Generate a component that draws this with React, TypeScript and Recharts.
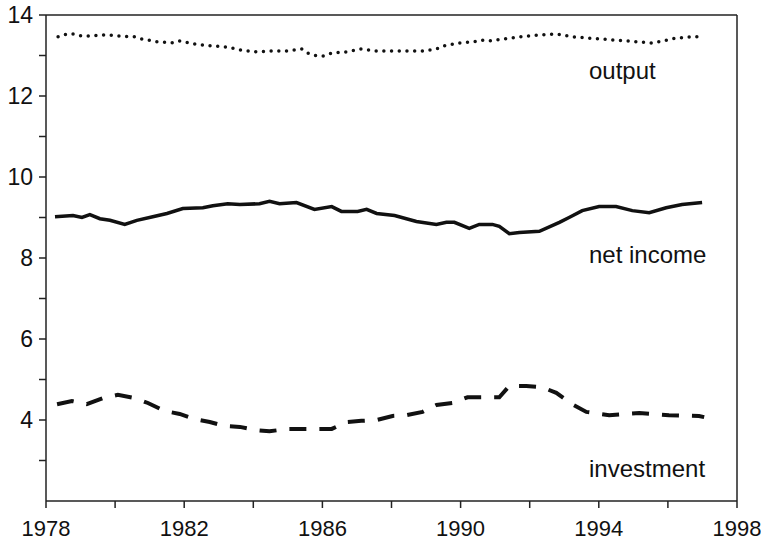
import React from 'react';
import { LineChart, Line, XAxis, YAxis, ReferenceLine } from 'recharts';

// values (x in fractional years)
const outputYears = [
  1978.35, 1978.61, 1978.78, 1979.04, 1979.27, 1979.71, 1980.14, 1980.57, 1980.77, 1981.21,
  1981.64, 1981.87, 1982.25, 1982.74, 1983.23, 1983.61, 1984.04, 1984.47, 1984.97, 1985.4,
  1985.57, 1985.83, 1986.03, 1986.27, 1986.7, 1987.13, 1987.57, 1988.23, 1988.9, 1989.3,
  1989.53, 1989.97, 1990.4, 1990.63, 1990.83, 1991.27, 1991.9, 1992.36, 1992.8, 1993.23,
  1994.01, 1994.79, 1995.54, 1995.75, 1996.24, 1996.7, 1996.99,
];
const outputValues = [
  13.46, 13.53, 13.53, 13.48, 13.48, 13.51, 13.48, 13.46, 13.41, 13.34,
  13.31, 13.36, 13.29, 13.24, 13.21, 13.14, 13.09, 13.11, 13.11, 13.16,
  13.06, 12.99, 12.99, 13.06, 13.09, 13.16, 13.11, 13.11, 13.11, 13.16,
  13.24, 13.31, 13.34, 13.38, 13.36, 13.41, 13.48, 13.51, 13.53, 13.46,
  13.41, 13.36, 13.31, 13.34, 13.43, 13.46, 13.46,
];

const incomeYears = [
  1978.26, 1978.78, 1979.04, 1979.27, 1979.56, 1979.85, 1980.28, 1980.63, 1981.09, 1981.5,
  1981.96, 1982.54, 1982.83, 1983.26, 1983.61, 1984.18, 1984.47, 1984.76, 1985.25, 1985.77,
  1986.27, 1986.55, 1987.02, 1987.28, 1987.57, 1988.09, 1988.72, 1989.3, 1989.59, 1989.82,
  1990.25, 1990.54, 1990.92, 1991.12, 1991.41, 1991.7, 1992.28, 1992.86, 1993.14, 1993.52,
  1994.01, 1994.5, 1994.97, 1995.46, 1995.95, 1996.41, 1996.99,
];
const incomeValues = [
  9.02, 9.05, 9.0, 9.07, 8.97, 8.93, 8.83, 8.93, 9.02, 9.1,
  9.22, 9.24, 9.29, 9.34, 9.32, 9.34, 9.4, 9.34, 9.37, 9.2,
  9.27, 9.15, 9.15, 9.2, 9.1, 9.05, 8.9, 8.83, 8.88, 8.88,
  8.73, 8.83, 8.83, 8.78, 8.6, 8.63, 8.66, 8.88, 9.0, 9.17,
  9.27, 9.27, 9.17, 9.12, 9.24, 9.32, 9.37,
];

const investYears = [
  1978.32, 1978.75, 1979.18, 1979.65, 1980.08, 1980.57, 1980.95, 1981.44, 1981.87, 1982.31,
  1982.74, 1983.17, 1983.61, 1984.1, 1984.47, 1984.97, 1985.83, 1986.27, 1986.7, 1987.13,
  1987.57, 1988.03, 1988.43, 1988.9, 1989.3, 1989.76, 1990.2, 1990.63, 1991.12, 1991.41,
  1991.9, 1992.36, 1992.77, 1993.23, 1993.64, 1994.3, 1995.17, 1996.03, 1996.9, 1997.05,
];
const investValues = [
  4.39, 4.47, 4.39, 4.54, 4.62, 4.54, 4.42, 4.22, 4.15, 4.02,
  3.95, 3.85, 3.83, 3.75, 3.72, 3.78, 3.78, 3.78, 3.95, 3.98,
  4.0, 4.1, 4.12, 4.2, 4.37, 4.42, 4.56, 4.56, 4.56, 4.84,
  4.84, 4.81, 4.67, 4.39, 4.2, 4.12, 4.17, 4.12, 4.1, 4.07,
];

const xTicks = [1978, 1980, 1982, 1984, 1986, 1988, 1990, 1992, 1994, 1996, 1998];
const yTicks = [3, 4, 5, 6, 7, 8, 9, 10, 11, 12, 13, 14];

const toPoints = (years: number[], values: number[]) =>
  years.map((year, i) => ({ year, value: values[i] }));

const font = '"Liberation Sans", Arial, sans-serif';
const axisColor = '#222';

const SeriesLabel = ({ text, left, top }: { text: string; left: number; top: number }) => (
  <div
    style={{
      position: 'absolute',
      left,
      top,
      fontFamily: font,
      fontSize: 24,
      color: '#111',
      whiteSpace: 'nowrap',
    }}
  >
    {text}
  </div>
);

export default function App() {
  return (
    <div style={{ position: 'absolute', left: 0, top: 0, width: 761, height: 543, background: '#fff' }}>
      <LineChart width={761} height={543} margin={{ top: 15, right: 24, left: 0, bottom: 0 }}>
        <XAxis
          type="number"
          dataKey="year"
          domain={[1978, 1998]}
          ticks={xTicks}
          interval={0}
          allowDuplicatedCategory={false}
          height={42}
          tickSize={7}
          tickMargin={12}
          stroke={axisColor}
          strokeWidth={1.5}
          tick={{ fontSize: 22, fill: '#111', fontFamily: font }}
          tickFormatter={(v: number) => ((v - 1978) % 4 === 0 ? String(v) : '')}
        />
        <YAxis
          type="number"
          domain={[2, 14]}
          ticks={yTicks}
          interval={0}
          width={46}
          tickSize={7}
          tickMargin={6}
          stroke={axisColor}
          strokeWidth={1.5}
          tick={{ fontSize: 23, fill: '#111', fontFamily: font }}
          tickFormatter={(v: number) => (v % 2 === 0 ? String(v) : '')}
        />
        <ReferenceLine y={14} stroke={axisColor} strokeWidth={1.5} />
        <ReferenceLine x={1998} stroke={axisColor} strokeWidth={1.5} />
        <Line
          data={toPoints(outputYears, outputValues)}
          dataKey="value"
          type="linear"
          stroke="#111"
          strokeWidth={3.5}
          strokeDasharray="0 7.7"
          strokeLinecap="round"
          dot={false}
          isAnimationActive={false}
        />
        <Line
          data={toPoints(incomeYears, incomeValues)}
          dataKey="value"
          type="linear"
          stroke="#111"
          strokeWidth={3.5}
          dot={false}
          isAnimationActive={false}
        />
        <Line
          data={toPoints(investYears, investValues)}
          dataKey="value"
          type="linear"
          stroke="#111"
          strokeWidth={4}
          strokeDasharray="17 13"
          dot={false}
          isAnimationActive={false}
        />
      </LineChart>
      <SeriesLabel text="output" left={589} top={57} />
      <SeriesLabel text="net income" left={589} top={241} />
      <SeriesLabel text="investment" left={589} top={455} />
    </div>
  );
}
